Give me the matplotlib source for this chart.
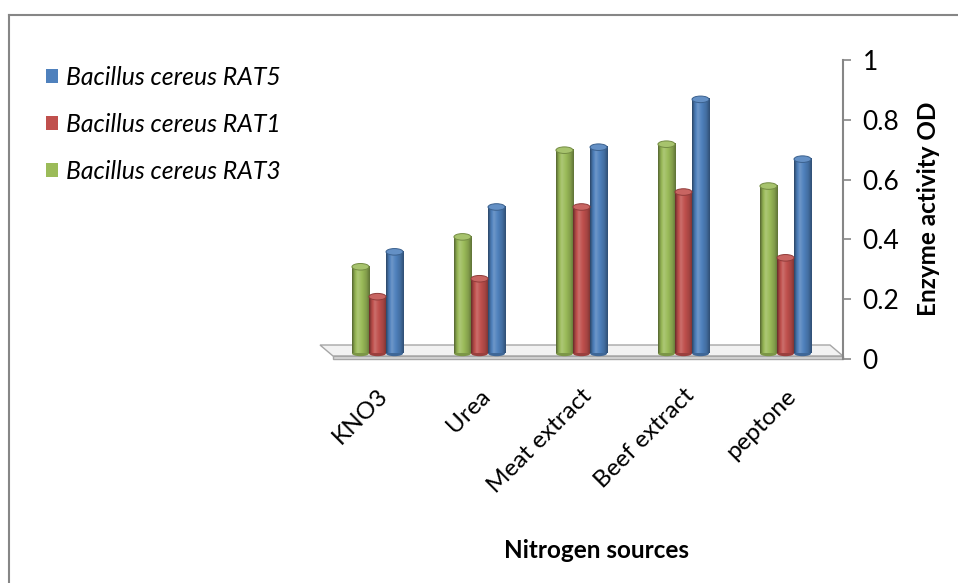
import numpy as np
import matplotlib
matplotlib.use("Agg")
import matplotlib.pyplot as plt
import matplotlib.transforms as mtrans
from matplotlib.patches import Ellipse, Polygon, Patch
from matplotlib.lines import Line2D

# data
sources = ["KNO3", "Urea", "Meat extract", "Beef extract", "peptone"]
rat3 = [0.29, 0.39, 0.68, 0.70, 0.56]   # green
rat1 = [0.19, 0.25, 0.49, 0.54, 0.32]   # red
rat5 = [0.34, 0.49, 0.69, 0.85, 0.65]   # blue

series = [("Bacillus cereus RAT3", rat3, "#9BBB59"),
          ("Bacillus cereus RAT1", rat1, "#C0504D"),
          ("Bacillus cereus RAT5", rat5, "#4F81BD")]

plt.rcParams['font.family'] = ['Lato', 'DejaVu Sans']
FS = 17.5
AXC = '#868686'

fig = plt.figure(figsize=(9.58, 5.83), dpi=100)
W, H = 958.0, 583.0
ax = fig.add_axes([333 / W, 1 - 359 / H, 510 / W, 299 / H])
ax.set_xlim(-0.5, len(sources) - 0.5)
ax.set_ylim(0, 1)

# bars sit half way back in the 3d floor -> shift up/left a little
bar_tr = mtrans.offset_copy(ax.transData, fig=fig, x=-6.5, y=5.5, units='dots')

def shade(col, f):
    c = np.array(matplotlib.colors.to_rgb(col))
    if f < 1:
        return c * f
    return c + (1 - c) * (f - 1)

prof_t = [0, 0.12, 0.32, 0.55, 0.8, 1.0]
prof_f = [0.55, 0.85, 1.18, 1.0, 0.85, 0.62]
tt = np.linspace(0, 1, 40)
ff = np.interp(tt, prof_t, prof_f)

bw = 0.167
x = np.arange(len(sources))
for k, (name, vals, col) in enumerate(series):
    grad = np.array([shade(col, f) for f in ff])[np.newaxis, :, :]
    xs = x + (k - 1) * bw
    for xc, v in zip(xs, vals):
        ax.imshow(grad, extent=(xc - bw / 2, xc + bw / 2, 0, v), transform=bar_tr,
                  aspect='auto', interpolation='bilinear', zorder=3)
        ax.add_patch(Ellipse((xc, 0), bw, 0.018, transform=bar_tr,
                             facecolor=shade(col, 0.8), edgecolor='none', zorder=2.9))
        ax.add_patch(Ellipse((xc, v), bw, 0.022, transform=bar_tr,
                             facecolor=shade(col, 1.12), edgecolor=shade(col, 0.75),
                             lw=0.7, zorder=4))

ax.set_xlim(-0.5, len(sources) - 0.5)
ax.set_ylim(0, 1)

# floor (3d base)
px_x = ax.bbox.width / 5.0
px_y = ax.bbox.height / 1.0
dx, dy = -13 / px_x, 11 / px_y
th = 3 / px_y
x0, x1 = -0.5, len(sources) - 0.5
top = Polygon([(x0, th), (x1, th), (x1 + dx, th + dy), (x0 + dx, th + dy)],
              closed=True, facecolor='#f2f2f2', edgecolor='#a6a6a6', lw=1.0,
              clip_on=False, zorder=1)
front = Polygon([(x0, 0), (x1, 0), (x1, th), (x0, th)], closed=True,
                facecolor='#d9d9d9', edgecolor='#a6a6a6', lw=1.0,
                clip_on=False, zorder=1)
ax.add_patch(top)
ax.add_patch(front)

# value axis on the right
for s in ['left', 'top', 'bottom']:
    ax.spines[s].set_visible(False)
ax.spines['right'].set_color(AXC)
ax.spines['right'].set_linewidth(1.5)
ax.yaxis.tick_right()
ax.set_yticks([0, 0.2, 0.4, 0.6, 0.8, 1.0])
ax.set_yticklabels(['0', '0.2', '0.4', '0.6', '0.8', '1'])
ax.tick_params(axis='y', direction='out', length=6, width=1.2, color=AXC,
               labelsize=19, pad=8)
ax.set_xticks([])

lab_tr = mtrans.offset_copy(ax.get_xaxis_transform(), fig=fig, x=8, y=-26, units='dots')
for i, s in enumerate(sources):
    ax.text(i, 0, s, transform=lab_tr, rotation=45, ha='right', va='top', fontsize=FS)

fig.text(928 / W, 1 - 209 / H, "Enzyme activity OD", rotation=90, ha='center',
         va='center', fontsize=FS, fontweight='bold')
fig.text(597 / W, 1 - 551 / H, "Nitrogen sources", ha='center', va='center',
         fontsize=FS, fontweight='bold')

handles = [Patch(facecolor=c, edgecolor='none', label=n) for n, v, c in series[::-1]]
fig.legend(handles=handles, loc='upper left', bbox_to_anchor=(46 / W, 1 - 66 / H),
           bbox_transform=fig.transFigure, frameon=False, borderpad=0,
           borderaxespad=0, handlelength=0.5, handleheight=0.5,
           handletextpad=0.3, labelspacing=0.97,
           prop={'size': 17.8, 'style': 'italic'})

# chart area border (only top and left visible)
fig.add_artist(Line2D([9 / W, 9 / W], [0, 1 - 15 / H], transform=fig.transFigure,
                      color=AXC, lw=1.5))
fig.add_artist(Line2D([9 / W, 1], [1 - 15 / H, 1 - 15 / H], transform=fig.transFigure,
                      color=AXC, lw=1.5))

fig.savefig("out.png", dpi=100, facecolor='white')
